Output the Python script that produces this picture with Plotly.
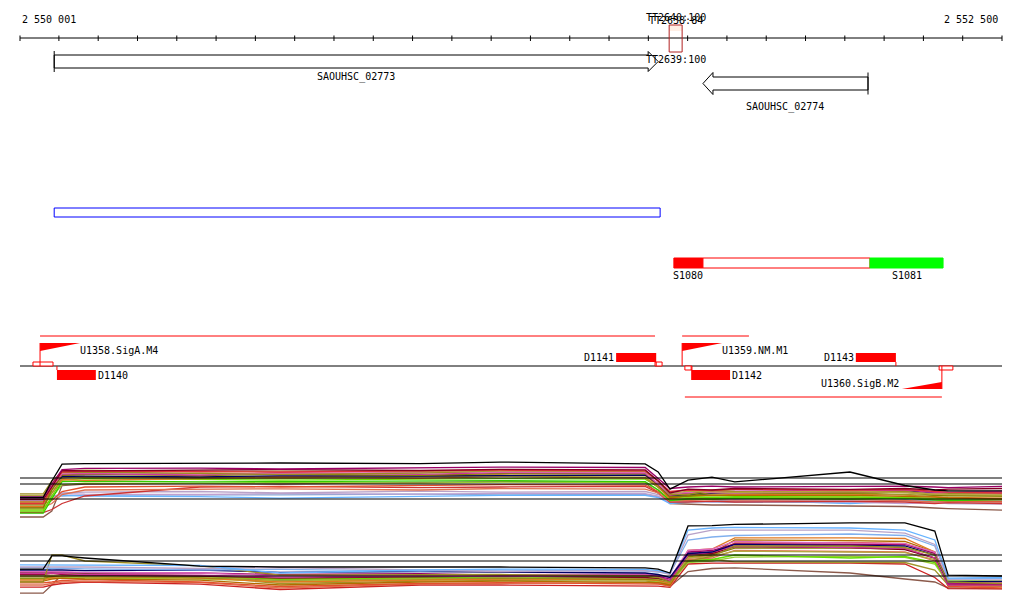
import plotly.graph_objects as go

# ---------------- data ----------------
RULER_START = 2550001
RULER_END = 2552500
ruler_labels = ["2 550 001", "2 552 500"]

gene_names = ["SAOUHSC_02773", "SAOUHSC_02774"]
gene_starts = [2550088, 2551739]
gene_ends = [2551625, 2552159]
gene_strands = ["+", "-"]

tt_names = ["TT2640:100", "TT2638:84", "TT2639:100"]
tt_start, tt_end = 2551653, 2551686

region_start, region_end = 2550088, 2551630

seg_names = ["S1080", "", "S1081"]
seg_starts = [2551665, 2551739, 2552164]
seg_ends = [2551739, 2552164, 2552350]
seg_fill = ["#ff0000", "#ffffff", "#00ff00"]
seg_line = ["#ff0000", "#ff0000", "#00ff00"]

tr_starts = [2550052, 2551686, 2551693]
tr_ends = [2551617, 2551856, 2552347]
tr_strands = ["+", "+", "-"]

prom_names = ["U1358.SigA.M4", "U1359.NM.M1", "U1360.SigB.M2"]
prom_pos = [2550052, 2551686, 2552347]
prom_strands = ["+", "+", "-"]

box_starts = [2550034, 2551617, 2551693, 2552340]
box_ends = [2550085, 2551635, 2551711, 2552375]
box_strands = ["+", "+", "-", "-"]

d_names = ["D1140", "D1141", "D1142", "D1143"]
d_starts = [2550095, 2551518, 2551709, 2552128]
d_ends = [2550194, 2551620, 2551808, 2552230]
d_strands = ["-", "+", "-", "+"]

expr_positions = [2550001, 2550060, 2550082, 2550108, 2550166, 2550459, 2550663,
                  2551019, 2551223, 2551592, 2551625, 2551655, 2551701, 2551762,
                  2551820, 2552113, 2552253, 2552329, 2552363, 2552500]
thresholds = [15, 13, 8]

# upper panel series
up_black = [8.5, 8.5, 14, 19.6, 19.8, 20, 20, 19.8, 20.3, 19.7, 17, 11.3, 14.3, 15.3, 13.7, 17, 12.5, 11, 10.7, 10.7]
up_purple = [8.5, 8.5, 13, 17.8, 18.2, 18.3, 18.0, 18.3, 18.6, 18.5, 15, 11.5, 12.0, 12.3, 12.0, 12.3, 12.3, 12.0, 11.8, 12.2]
up_red = [6.5, 6.5, 12, 17.0, 17.3, 17.2, 17.0, 17.4, 17.6, 17.4, 14, 10.5, 11.0, 10.8, 11.3, 11.0, 11.2, 10.5, 10.3, 10.0]
up_olive = [9.7, 9.7, 14, 16.8, 17.0, 16.6, 16.2, 16.6, 17.4, 17.2, 14, 9.5, 9.5, 11.0, 10.5, 10.3, 10.5, 9.5, 9.8, 9.6]
up_olive2 = [5.0, 5.0, 11, 16.0, 16.2, 15.8, 16.3, 15.9, 16.5, 16.4, 13, 8.8, 9.0, 10.2, 10.0, 10.0, 10.3, 9.2, 9.3, 9.0]
up_navy = [8.4, 8.4, 12, 15.5, 15.6, 15.4, 15.7, 15.6, 15.8, 16.0, 13, 9.0, 9.5, 9.8, 10.3, 10.5, 10.8, 10.0, 10.2, 10.4]
up_lime = [4.0, 4.0, 9, 14.3, 14.8, 14.5, 14.3, 14.6, 14.8, 14.6, 12, 8.3, 8.8, 8.5, 8.8, 8.6, 8.5, 8.3, 8.0, 8.2]
up_orange = [5.5, 5.5, 10, 14.5, 14.2, 14.8, 15.2, 14.9, 15.5, 15.0, 12, 8.0, 9.3, 9.8, 9.5, 9.6, 9.3, 8.8, 8.5, 8.3]
up_olive3 = [6.0, 6.0, 10, 15.0, 15.3, 15.1, 14.8, 15.4, 15.6, 15.2, 12, 8.8, 9.6, 9.6, 9.8, 10.0, 9.6, 9.2, 9.0, 9.0]
up_magenta = [9.0, 9.0, 12, 16.3, 16.5, 16.0, 16.8, 16.2, 16.8, 16.6, 13, 9.2, 10.0, 10.5, 10.6, 10.8, 11.0, 10.2, 10.0, 10.5]
up_green2 = [3.3, 3.3, 8, 13.8, 14.0, 13.7, 13.8, 13.9, 14.1, 13.8, 11, 7.5, 8.0, 8.0, 8.3, 8.0, 8.2, 7.6, 7.5, 7.8]
up_brownorange = [7.0, 7.0, 11, 15.8, 15.5, 15.3, 15.5, 15.9, 16.0, 15.8, 12.5, 8.5, 9.0, 9.3, 9.2, 9.3, 9.0, 8.6, 8.4, 8.0]
up_redorange = [6.3, 6.3, 7.5, 10.5, 12.0, 12.3, 12.0, 12.4, 12.8, 12.6, 10.5, 8.0, 8.2, 8.0, 8.5, 8.3, 8.5, 7.8, 7.5, 7.3]
up_salmon = [5.2, 5.2, 6.5, 9.5, 11.0, 11.2, 11.4, 11.0, 11.5, 11.3, 10, 7.3, 7.5, 7.8, 7.6, 7.8, 7.5, 7.0, 7.2, 7.0]
up_red2 = [3.5, 3.5, 4.5, 6.5, 9.0, 12.0, 12.2, 11.8, 12.0, 12.2, 10, 7.0, 7.0, 7.3, 7.0, 7.2, 7.0, 6.5, 6.8, 6.5]
up_lilac = [8.0, 8.0, 8.5, 10.0, 10.3, 10.5, 10.0, 10.6, 10.3, 10.5, 9.5, 7.5, 7.8, 8.0, 7.6, 7.5, 7.3, 6.8, 6.5, 6.3]
up_lilac2 = [7.5, 7.5, 8.0, 9.8, 9.6, 9.5, 9.8, 9.6, 9.9, 9.8, 9.0, 7.0, 7.3, 7.0, 7.3, 7.0, 6.5, 6.8, 7.0, 6.7]
up_lightblue = [8.7, 8.7, 9.0, 9.3, 9.0, 8.8, 8.3, 9.0, 9.2, 9.2, 8.5, 6.5, 7.0, 7.2, 7.8, 6.5, 7.5, 7.8, 8.0, 7.6]
up_steel = [8.8, 8.8, 9.2, 9.0, 9.3, 9.5, 9.4, 9.6, 9.4, 9.5, 8.8, 6.8, 7.3, 7.0, 7.0, 6.8, 7.8, 7.5, 7.2, 7.0]
up_brown = [2.0, 2.0, 4, 12.5, 13.0, 13.2, 13.0, 13.5, 13.8, 13.4, 10, 6.5, 6.2, 6.0, 6.0, 5.8, 5.5, 5.0, 4.8, 4.3]
up_darkred = [7.8, 7.8, 12, 17.5, 17.4, 17.6, 17.8, 17.5, 17.9, 17.7, 14, 10.0, 11.3, 11.0, 11.5, 11.2, 11.5, 11.0, 11.3, 11.5]
up_pink = [8.2, 8.2, 12, 16.7, 16.8, 16.4, 16.5, 16.9, 17.0, 16.9, 13, 9.6, 10.3, 10.2, 10.0, 10.4, 10.3, 9.8, 10.0, 9.8]
up_khaki = [9.2, 9.2, 13, 17.3, 17.6, 17.0, 17.3, 17.1, 17.5, 17.3, 14, 9.8, 10.6, 10.5, 10.2, 10.7, 10.0, 9.6, 9.5, 9.3]
up_green3 = [4.5, 4.5, 8.5, 12.8, 13.3, 13.2, 13.5, 13.3, 13.6, 13.5, 11, 7.8, 8.5, 8.7, 8.5, 8.8, 8.6, 8.0, 8.2, 8.0]

# lower panel series
lo_black = [10.3, 10.3, 14.7, 14.7, 14.0, 11.3, 11.0, 11.0, 11.0, 10.7, 10.3, 9.0, 24.7, 24.8, 25.2, 25.7, 25.7, 23.0, 8.3, 8.0]
lo_olive = [6.0, 6.0, 15.0, 15.0, 13.0, 11.4, 8.3, 8.3, 8.5, 8.0, 7.5, 6.0, 13.0, 14.5, 18.0, 18.0, 17.5, 15.0, 6.0, 5.5]
lo_lightblue = [11.7, 11.7, 11.5, 11.6, 11.7, 11.5, 9.0, 10.0, 10.3, 10.2, 9.8, 9.0, 23.3, 24.0, 24.2, 24.0, 23.3, 20.0, 7.3, 7.5]
lo_lilac = [11.0, 11.0, 11.2, 11.0, 11.0, 10.5, 10.8, 10.0, 9.5, 9.8, 9.5, 8.5, 21.7, 23.3, 23.3, 23.3, 22.3, 18.5, 6.7, 6.7]
lo_steel = [10.8, 10.8, 10.5, 10.6, 10.4, 10.0, 10.2, 9.6, 10.0, 9.6, 9.3, 8.8, 20.0, 21.0, 21.5, 22.0, 21.5, 18.0, 7.0, 7.2]
lo_navy = [10.0, 10.0, 10.2, 10.0, 9.8, 10.0, 9.2, 9.5, 9.3, 9.0, 8.5, 7.5, 15.5, 16.0, 18.5, 18.3, 18.0, 15.0, 6.0, 6.2]
lo_purple = [9.3, 9.3, 9.5, 9.3, 9.0, 9.0, 8.5, 8.8, 8.3, 8.5, 8.0, 7.0, 16.0, 16.5, 18.7, 18.7, 18.5, 15.5, 5.5, 5.3]
lo_magenta = [8.8, 8.8, 9.0, 8.8, 8.5, 8.3, 7.6, 8.0, 7.8, 8.2, 7.8, 6.5, 15.0, 16.0, 18.0, 17.5, 17.2, 14.0, 5.0, 5.0]
lo_lime = [9.0, 9.0, 9.2, 9.0, 8.8, 8.0, 7.0, 7.5, 7.7, 7.8, 7.3, 6.3, 13.0, 13.5, 15.0, 14.0, 14.5, 12.5, 6.5, 6.3]
lo_orange = [6.7, 6.7, 7.5, 8.0, 7.8, 7.3, 6.0, 6.6, 7.0, 6.8, 6.5, 5.5, 16.5, 17.0, 20.7, 20.7, 20.5, 16.0, 6.3, 6.0]
lo_redorange = [5.7, 5.7, 6.0, 6.5, 6.8, 6.0, 4.5, 5.5, 5.8, 5.5, 5.3, 4.8, 14.0, 15.0, 19.0, 19.2, 18.8, 15.5, 4.5, 4.0]
lo_red = [4.3, 4.3, 5.0, 5.5, 6.0, 5.3, 3.5, 5.0, 5.0, 4.8, 4.6, 4.2, 12.0, 12.3, 12.3, 12.3, 12.0, 7.5, 3.8, 3.7]
lo_brown = [2.3, 2.3, 5.0, 8.5, 8.0, 7.5, 6.5, 7.3, 7.0, 6.8, 6.5, 4.5, 9.5, 10.5, 10.7, 9.0, 7.0, 6.0, 4.0, 3.8]
lo_olive2 = [7.3, 7.3, 7.8, 8.3, 8.0, 7.5, 6.8, 7.0, 7.3, 7.0, 6.8, 6.0, 14.5, 15.0, 17.3, 17.3, 17.0, 14.0, 5.8, 5.5]
lo_olive3 = [7.8, 7.8, 8.0, 7.8, 7.5, 7.8, 5.5, 6.3, 6.5, 6.3, 6.0, 5.3, 13.0, 13.5, 12.7, 12.7, 12.5, 10.0, 5.0, 4.8]
lo_darkred = [8.5, 8.5, 9.0, 8.5, 8.3, 8.0, 7.3, 7.8, 8.0, 7.5, 7.2, 6.3, 15.5, 15.5, 17.8, 17.5, 16.8, 14.0, 5.3, 5.5]
lo_salmon = [5.0, 5.0, 5.5, 6.0, 6.2, 5.8, 4.0, 5.3, 5.5, 5.8, 5.5, 4.5, 13.5, 14.0, 16.5, 16.3, 16.0, 13.0, 4.7, 4.5]
lo_pink = [9.5, 9.5, 9.6, 9.4, 9.2, 9.0, 8.0, 8.3, 8.6, 8.7, 8.3, 7.3, 16.5, 17.0, 19.5, 19.0, 18.8, 16.0, 5.8, 6.0]
lo_brownorange = [6.3, 6.3, 7.0, 7.3, 7.0, 6.6, 5.0, 6.0, 6.3, 6.0, 5.8, 5.0, 15.0, 15.5, 20.0, 19.8, 19.5, 16.0, 5.0, 4.8]
lo_green3 = [7.0, 7.0, 7.3, 7.5, 7.3, 7.0, 6.3, 6.8, 7.0, 6.7, 6.3, 5.7, 12.5, 13.0, 14.3, 14.5, 14.2, 12.0, 5.5, 5.7]
lo_khaki = [8.0, 8.0, 8.3, 8.1, 7.9, 7.7, 6.7, 7.2, 7.5, 7.3, 7.0, 6.0, 14.0, 14.5, 16.3, 16.0, 15.8, 13.5, 6.0, 6.3]

upper_series = [
    (up_brown, "#8b5a4b"), (up_steel, "#80a8d8"), (up_lightblue, "#66b3ff"),
    (up_lilac2, "#c0a0d0"), (up_lilac, "#b8a2c8"), (up_red2, "#cc3333"),
    (up_salmon, "#e07050"), (up_redorange, "#e2502d"), (up_green3, "#99cc33"),
    (up_green2, "#33cc00"), (up_lime, "#66dd00"), (up_orange, "#e07820"),
    (up_olive3, "#a0962a"), (up_brownorange, "#b36b00"), (up_navy, "#000066"),
    (up_olive2, "#808000"), (up_magenta, "#cc3399"), (up_pink, "#dd66bb"),
    (up_olive, "#9c8b23"), (up_khaki, "#b5a642"), (up_red, "#e0303a"),
    (up_darkred, "#800020"), (up_purple, "#990066"), (up_black, "#000000"),
]
lower_series = [
    (lo_brown, "#8b5a4b"), (lo_red, "#cc2222"), (lo_salmon, "#e07050"),
    (lo_redorange, "#e2502d"), (lo_olive3, "#a0962a"), (lo_green3, "#99cc33"),
    (lo_brownorange, "#b36b00"), (lo_orange, "#e07820"), (lo_olive2, "#808000"),
    (lo_khaki, "#b5a642"), (lo_lime, "#66dd00"), (lo_darkred, "#800020"),
    (lo_magenta, "#cc3399"), (lo_purple, "#990066"), (lo_pink, "#dd66bb"),
    (lo_navy, "#000066"), (lo_olive, "#9c8b23"), (lo_steel, "#80b0ee"),
    (lo_lilac, "#b8a2c8"), (lo_lightblue, "#66b3ff"), (lo_black, "#000000"),
]

# ---------------- layout helpers ----------------
W, H = 1024, 611
PX_L, PX_R = 20, 1002
bp_per_px = (RULER_END - RULER_START) / (PX_R - PX_L)
x_range = [RULER_START - PX_L * bp_per_px, RULER_START + (W - PX_L) * bp_per_px]
FONT = dict(family="DejaVu Sans Mono", size=10, color="#000000")


def py(y):
    return 1 - y / H


def bp(px):
    return px * bp_per_px


shapes = []
annotations = []


def line(x0, y0, x1, y1, color="#000000", width=1):
    shapes.append(dict(type="line", xref="x", yref="paper", x0=x0, x1=x1,
                       y0=py(y0), y1=py(y1), line=dict(color=color, width=width)))


def rect(x0, y0, x1, y1, line_color=None, fill=None, width=1):
    shapes.append(dict(type="rect", xref="x", yref="paper", x0=x0, x1=x1,
                       y0=py(y0), y1=py(y1),
                       line=dict(color=line_color or "rgba(0,0,0,0)", width=width if line_color else 0),
                       fillcolor=fill or "rgba(0,0,0,0)"))


def path(points, fill=None, line_color="#000000", width=1):
    d = "M " + " L ".join(f"{x},{py(y)}" for x, y in points) + " Z"
    shapes.append(dict(type="path", xref="x", yref="paper", path=d,
                       fillcolor=fill or "rgba(0,0,0,0)",
                       line=dict(color=line_color or "rgba(0,0,0,0)", width=width if line_color else 0)))


def text(x, y, s, anchor="center"):
    annotations.append(dict(x=x, y=py(y), xref="x", yref="paper", text=s, showarrow=False,
                            xanchor=anchor, yanchor="middle", font=FONT))


# ruler
line(RULER_START, 38, RULER_END, 38)
ticks = [RULER_START] + list(range(2550100, RULER_END, 100)) + [RULER_END]
for t in ticks:
    line(t, 35.5, t, 41)
text(RULER_START, 19.5, ruler_labels[0], "left")
text(RULER_END - bp(2), 19.5, ruler_labels[1], "right")

# terminator box + labels (overlapping in the reference)
rect(tt_start, 25, tt_end, 31, fill="rgba(255,190,150,0.25)")
rect(tt_start, 25, tt_end, 52, line_color="#b22222")
tt_mid = (tt_start + tt_end) / 2
text(tt_mid, 17.5, tt_names[0])
text(tt_mid, 20.5, tt_names[1])
text(tt_mid, 59.5, tt_names[2])

# genes
gene_rows = [61.5, 83.5]
gene_label_y = [76.5, 106.5]
head = bp(10)
for name, s, e, st, yc, ly in zip(gene_names, gene_starts, gene_ends, gene_strands, gene_rows, gene_label_y):
    if st == "+":
        hb = e - head
        pts = [(s, yc - 6.5), (hb, yc - 6.5), (hb, yc - 10), (e, yc), (hb, yc + 10),
               (hb, yc + 6.5), (s, yc + 6.5)]
        path(pts, fill="#ffffff")
        line(s, yc - 10.5, s, yc + 10.5)
    else:
        hb = s + head
        pts = [(e, yc - 6.5), (hb, yc - 6.5), (hb, yc - 11), (s, yc), (hb, yc + 11),
               (hb, yc + 6.5), (e, yc + 6.5)]
        path(pts, fill="#ffffff")
        line(e, yc - 11, e, yc + 11)
    text((s + e) / 2, ly, name)

# blue region
rect(region_start, 208, region_end, 217, line_color="#0000ff")

# segments
for name, s, e, f, lc in zip(seg_names, seg_starts, seg_ends, seg_fill, seg_line):
    rect(s, 258, e, 268, line_color=lc, fill=f)
    if name:
        text((s + e) / 2, 275, name)

# baseline
line(RULER_START, 366, RULER_END, 366)

# transcripts
for s, e, st in zip(tr_starts, tr_ends, tr_strands):
    yy = 336 if st == "+" else 397
    line(s, yy, e, yy, color="#ff0000")

# small boxes
for s, e, st in zip(box_starts, box_ends, box_strands):
    if st == "+":
        rect(s, 362, e, 366, line_color="#ff0000", fill="#ffffff")
    else:
        rect(s, 366, e, 370, line_color="#ff0000", fill="#ffffff")

# promoters
flag = bp(40)
for name, p, st in zip(prom_names, prom_pos, prom_strands):
    if st == "+":
        line(p, 366, p, 343, color="#ff0000")
        path([(p, 343), (p + flag, 343), (p, 351)], fill="#ff0000", line_color=None)
        text(p + flag - bp(2), 350.5, name, "left")
    else:
        line(p, 366, p, 389, color="#ff0000")
        path([(p, 389), (p - flag, 389), (p, 382)], fill="#ff0000", line_color=None)
        text(p - flag - bp(1), 383, name, "right")

# D features
for name, s, e, st in zip(d_names, d_starts, d_ends, d_strands):
    if st == "+":
        rect(s, 353, e, 362, fill="#ff0000")
        line(e, 362, e, 366, color="#ff0000")
        text(s, 357, name, "right")
    else:
        rect(s, 370, e, 380, fill="#ff0000")
        line(s, 366, s, 370, color="#ff0000")
        text(e, 375, name, "left")

# ---------------- expression panels ----------------
SCALE = 3.0
UP_BASE, LO_BASE = 523, 600
UP_TOP, UP_BOT = 452, 521
LO_TOP, LO_BOT = 521, 605

fig = go.Figure()
for vals, col in upper_series:
    fig.add_trace(go.Scatter(x=expr_positions, y=vals, mode="lines", xaxis="x", yaxis="y2",
                             line=dict(color=col, width=1.3), hoverinfo="skip"))
for vals, col in lower_series:
    fig.add_trace(go.Scatter(x=expr_positions, y=vals, mode="lines", xaxis="x", yaxis="y3",
                             line=dict(color=col, width=1.3), hoverinfo="skip"))
for ax in ("y2", "y3"):
    for t in thresholds:
        fig.add_trace(go.Scatter(x=[RULER_START, RULER_END], y=[t, t], mode="lines", xaxis="x",
                                 yaxis=ax, line=dict(color="#000000", width=1.2), hoverinfo="skip"))

fig.update_layout(
    width=W, height=H,
    margin=dict(l=0, r=0, t=0, b=0),
    paper_bgcolor="#ffffff", plot_bgcolor="rgba(0,0,0,0)",
    showlegend=False,
    xaxis=dict(range=x_range, domain=[0, 1], visible=False, anchor="y2"),
    yaxis2=dict(domain=[1 - UP_BOT / H, 1 - UP_TOP / H],
                range=[(UP_BASE - UP_BOT) / SCALE, (UP_BASE - UP_TOP) / SCALE],
                visible=False, anchor="x"),
    yaxis3=dict(domain=[1 - LO_BOT / H, 1 - LO_TOP / H],
                range=[(LO_BASE - LO_BOT) / SCALE, (LO_BASE - LO_TOP) / SCALE],
                visible=False, anchor="x"),
    shapes=shapes,
    annotations=annotations,
)

fig.write_html("out.html", config={"displayModeBar": False},
               post_script="document.body.style.margin='0';")
